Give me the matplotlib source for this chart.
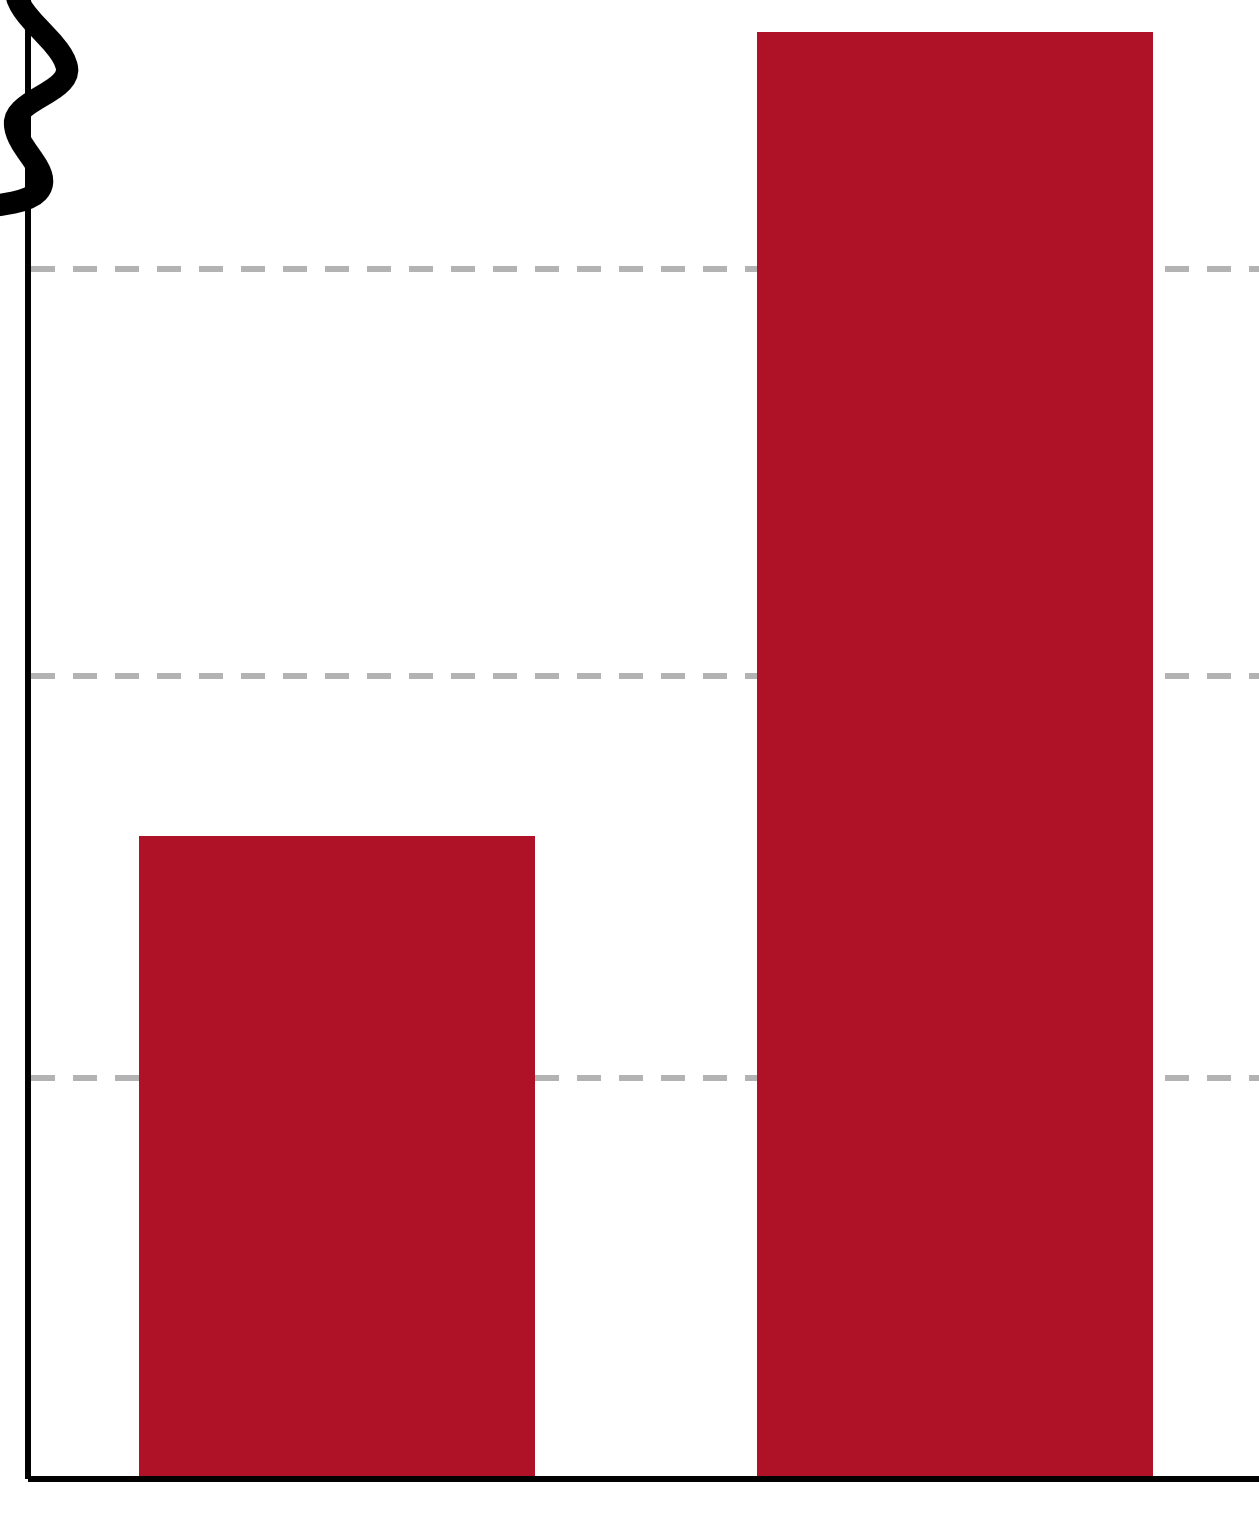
import matplotlib
matplotlib.use("Agg")
import matplotlib.pyplot as plt
from matplotlib.path import Path
from matplotlib.patches import PathPatch

categories = ["A", "B"]
values = [16.0, 36.0]
grid_values = [9.98, 19.98, 30.1]

W, H, DPI = 1259, 1514, 100
fig = plt.figure(figsize=(W / DPI, H / DPI), dpi=DPI)
fig.patch.set_facecolor("white")

left_px, bottom_px = 28, 1479
ax = fig.add_axes([left_px / W, (H - bottom_px) / H, 1 - left_px / W + 0.004, bottom_px / H])
ax.set_xlim(-0.5, 1.5)
ax.set_ylim(0, bottom_px / 40.2)

x = list(range(len(categories)))
ax.bar(x, values, width=0.64, color="#AF1226", zorder=2)

for g in grid_values:
    ax.axhline(g, color="#b3b3b3", lw=4.32, linestyle=(6.5, (4, 3)), zorder=1)

for s in ["top", "right"]:
    ax.spines[s].set_visible(False)
ax.spines["left"].set_linewidth(4.3)
ax.spines["bottom"].set_linewidth(4.3)
ax.spines["left"].set_capstyle("butt")
ax.spines["bottom"].set_capstyle("butt")
ax.set_xticks([])
ax.set_yticks([])

# axis-break squiggle (decoration, in figure pixel coordinates)
pts = [(16, -14),
       (12, 15), (62, 40), (67, 68),
       (70, 92), (14, 100), (15, 124),
       (16, 146), (44, 165), (42, 183),
       (40, 199), (15, 203), (-8, 206)]
codes = [Path.MOVETO] + [Path.CURVE4] * 12
verts = [(px / W, 1 - py / H) for px, py in pts]
patch = PathPatch(Path(verts, codes), transform=fig.transFigure, facecolor="none",
                  edgecolor="black", lw=16, capstyle="round", clip_on=False, zorder=10)
fig.patches.append(patch)

fig.savefig("out.png", dpi=DPI, facecolor="white")
